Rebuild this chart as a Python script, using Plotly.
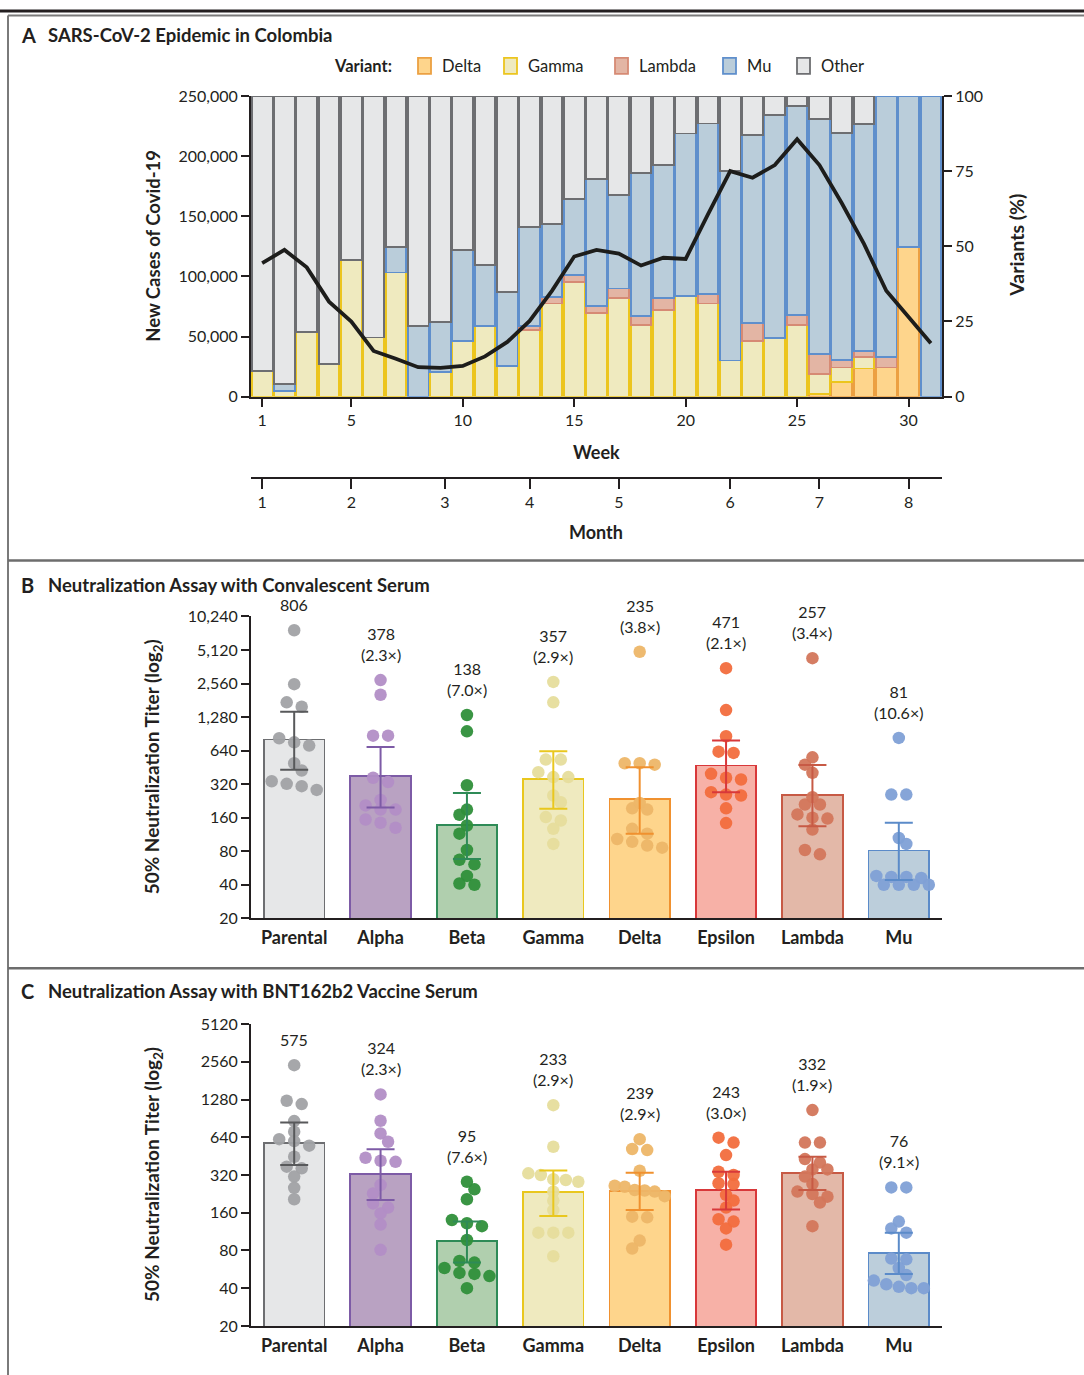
import math
import plotly.graph_objects as go

W, H = 1084, 1375
# the photographed page maps figure px y -> 9 + 0.987*y; place items so they land on target px
V_OFF, V_SCALE = 9.0, 0.987
def PX(x): return x / W
def PY(y): return 1 - ((y - V_OFF) / V_SCALE) / H

FONT = "Lato"
INK = "#231f20"

# ---------------- Panel A data ----------------
weeks = list(range(1, 32))
pct_delta = [0, 0, 0, 0, 0, 0, 0, 0, 0, 0, 0, 0, 0, 0, 0, 0, 0, 0, 0, 0, 0, 0, 0, 0, 0,
             0.9, 4.8, 9.4, 9.7, 49.9, 0]
pct_gamma = [8.6, 1.8, 21.4, 10.9, 45.4, 19.7, 41.3, 0, 8.1, 18.4, 23.4, 10.3, 22.3, 31.0, 38.2,
             27.8, 32.7, 23.9, 28.8, 33.6, 31.0, 12.0, 18.6, 19.5, 23.9, 6.6, 4.9, 3.7, 0, 0, 0]
pct_lambda = [0, 0, 0, 0, 0, 0, 0, 0, 0, 0, 0, 0, 1.3, 2.2, 2.2, 2.4, 3.3, 3.0, 4.1, 0, 3.1, 0,
              5.8, 0, 3.3, 6.7, 2.5, 2.0, 3.4, 0, 0]
pct_mu = [0, 2.4, 0, 0, 0, 0, 8.6, 23.6, 16.6, 30.3, 20.5, 24.4, 32.7, 24.2, 25.3, 42.3, 31.1,
          47.6, 44.2, 53.9, 56.7, 63.1, 62.5, 74.1, 69.5, 78.0, 75.4, 75.5, 86.9, 50.1, 100]
pct_other = [91.4, 95.8, 78.6, 89.1, 54.6, 80.3, 50.1, 76.4, 75.3, 51.3, 56.1, 65.3, 43.7, 42.6,
             34.3, 27.5, 32.9, 25.5, 22.9, 12.5, 9.2, 24.9, 13.1, 6.4, 3.3, 7.8, 12.4, 9.4, 0, 0, 0]
new_cases = [111000, 122000, 107500, 79000, 62500, 38000, 31500, 24500, 24000, 25500, 33500,
             45500, 63000, 88000, 116500, 122000, 119000, 109000, 115500, 114500, 151500, 187500,
             182000, 192500, 214000, 192500, 161000, 127000, 88000, 66000, 44500]
week_ticks = [1, 5, 10, 15, 20, 25, 30]
month_tick_weeks = [1, 5, 9.2, 13, 17, 22, 26, 30]
month_labels = ["1", "2", "3", "4", "5", "6", "7", "8"]
case_ticks = [0, 50000, 100000, 150000, 200000, 250000]
case_labels = ["0", "50,000", "100,000", "150,000", "200,000", "250,000"]
pct_ticks = [0, 25, 50, 75, 100]
variant_names = ["Delta", "Gamma", "Lambda", "Mu", "Other"]

# ---------------- Panels B / C data ----------------
categories = ["Parental", "Alpha", "Beta", "Gamma", "Delta", "Epsilon", "Lambda", "Mu"]

conv_titers = [
    [7710, 2530, 1735, 1586, 826, 710, 760, 493, 424, 322, 284, 307, 340],
    [2750, 2030, 872, 872, 365, 334, 231, 206, 189, 189, 154, 144, 130],
    [1336, 954, 313, 170, 189, 136, 115, 82, 67, 61, 48, 40, 41],
    [2650, 1735, 532, 532, 410, 370, 370, 253, 220, 162, 151, 127, 93],
    [4940, 493, 479, 493, 194, 189, 217, 115, 127, 103, 97, 86, 90],
    [3520, 1480, 862, 610, 626, 396, 352, 365, 253, 258, 271, 194, 143],
    [4330, 557, 479, 404, 244, 210, 210, 171, 160, 157, 125, 82, 75],
    [832, 258, 258, 105, 93, 47, 47, 48, 46, 40, 40, 40, 40],
]
conv_gmt = [806, 378, 138, 357, 235, 471, 257, 81]
conv_ci_hi = [1430, 690, 267, 632, 453, 788, 476, 144]
conv_ci_lo = [431, 197, 68, 192, 115, 271, 134, 44]
conv_fold = ["", "2.3", "7.0", "2.9", "3.8", "2.1", "3.4", "10.6"]
conv_ticks = [20, 40, 80, 160, 320, 640, 1280, 2560, 5120, 10240]
conv_tick_labels = ["20", "40", "80", "160", "320", "640", "1,280", "2,560", "5,120", "10,240"]

vacc_titers = [
    [2410, 1178, 1253, 862, 710, 619, 597, 549, 448, 373, 362, 311, 253, 205],
    [1408, 868, 688, 590, 416, 408, 440, 228, 267, 190, 176, 158, 129, 81],
    [283, 246, 205, 140, 132, 125, 97, 66, 64, 58, 52, 50, 53, 40],
    [1156, 538, 320, 292, 283, 296, 330, 236, 200, 168, 111, 111, 111, 72],
    [619, 506, 516, 346, 263, 258, 236, 241, 243, 217, 149, 147, 96, 83],
    [636, 581, 462, 340, 320, 275, 271, 222, 200, 176, 142, 136, 120, 89],
    [1056, 581, 581, 429, 402, 355, 355, 311, 271, 236, 215, 226, 193, 125],
    [255, 255, 136, 120, 111, 69, 68, 58, 51, 46, 43, 41, 40, 40],
]
vacc_gmt = [575, 324, 95, 233, 239, 243, 332, 76]
vacc_ci_hi = [842, 513, 136, 348, 334, 340, 448, 111]
vacc_ci_lo = [384, 202, 64, 151, 168, 170, 243, 52]
vacc_fold = ["", "2.3", "7.6", "2.9", "2.9", "3.0", "1.9", "9.1"]
vacc_ticks = [20, 40, 80, 160, 320, 640, 1280, 2560, 5120]
vacc_tick_labels = ["20", "40", "80", "160", "320", "640", "1280", "2560", "5120"]
detection_limit = 40

# ---------------- styles ----------------
var_fill = {"Delta": "#fed58c", "Gamma": "#efeabf", "Lambda": "#e3b5a4", "Mu": "#bacdda", "Other": "#e6e7e8"}
var_line = {"Delta": "#eca042", "Gamma": "#ecc51e", "Lambda": "#d68a74", "Mu": "#5f8fcc", "Other": "#6d6e71"}
cat_fill = ["#e6e7e8", "#b9a2c2", "#b0cfae", "#efeabf", "#fed58c", "#f7b1a7", "#e3b8a8", "#bccedb"]
cat_line = ["#6d6e71", "#7d5ba6", "#2e8b57", "#e9c71e", "#f0912f", "#d8383a", "#c75a45", "#5b8bc9"]
cat_err = ["#58595b", "#7d5ba6", "#2e8b57", "#e9c71e", "#f0912f", "#d8383a", "#c75a45", "#5b8bc9"]
cat_dot = ["#a1a2a5", "#b28ec6", "#2f8f3a", "#e6dd9c", "#edb668", "#f26d3d", "#d3765b", "#7fa0d6"]

fig = go.Figure()

# ---------------- Panel A traces ----------------
series = {"Delta": pct_delta, "Gamma": pct_gamma, "Lambda": pct_lambda, "Mu": pct_mu, "Other": pct_other}
for name in variant_names:
    vals = [v if v > 0 else None for v in series[name]]
    fig.add_trace(go.Bar(x=weeks, y=vals, name=name, xaxis="x", yaxis="y",
                         marker=dict(color=var_fill[name], line=dict(color=var_line[name], width=1.8)),
                         showlegend=False, hoverinfo="x+y+name"))
fig.add_trace(go.Scatter(x=weeks, y=new_cases, mode="lines", xaxis="x", yaxis="y2",
                         line=dict(color="#1d1d1b", width=3.8), showlegend=False, name="New cases"))
# invisible trace so the month axis is drawn
fig.add_trace(go.Scatter(x=month_tick_weeks, y=[None] * len(month_tick_weeks), xaxis="x3", yaxis="y",
                         mode="markers", showlegend=False, hoverinfo="skip"))


# ---------------- Prism-like row scatter ----------------
def swarm(vals, ppd, ppu, s=15.0, dmin=9.0, t=5.0, maxw=50.0):
    n = len(vals)
    ys = [math.log2(v) * ppd for v in vals]
    order = sorted(range(n), key=lambda i: -ys[i])
    rows = []
    for i in order:
        if rows and ys[rows[-1][-1]] - ys[i] <= t:
            rows[-1].append(i)
        else:
            rows.append([i])
    xs = [0.0] * n
    placed = []
    for r, row in enumerate(rows):
        m = len(row)
        sp = s if m < 2 else min(s, maxw / (m - 1))
        base = [(k - (m - 1) / 2) * sp for k in range(m)]
        best = None
        for step in range(0, 12):
            for sign in ((1, -1) if r % 2 else (-1, 1)):
                sh = sign * step * sp / 2
                ok = all(math.hypot(base[k] + sh - xs[j], ys[i] - ys[j]) >= dmin
                         for k, i in enumerate(row) for j in placed)
                if ok:
                    best = sh
                    break
            if best is not None:
                break
        if best is None:
            best = 0.0
        for k, i in enumerate(row):
            xs[i] = base[k] + best
            placed.append(i)
    return [x / ppu for x in xs]


def add_assay(titers, gmt, hi, lo, fold, xa, ya, ppd):
    for i, cat in enumerate(categories):
        fig.add_trace(go.Bar(x=[i], y=[gmt[i]], width=0.7, xaxis=xa, yaxis=ya, name=cat,
                             marker=dict(color=cat_fill[i], line=dict(color=cat_line[i], width=1.8)),
                             showlegend=False))
        offs = swarm(titers[i], ppd, 86.4)
        fig.add_trace(go.Scatter(x=[i + o for o in offs], y=titers[i], mode="markers", xaxis=xa, yaxis=ya,
                                 marker=dict(size=12.5, color=cat_dot[i], opacity=0.95, line=dict(width=0)),
                                 showlegend=False, cliponaxis=False, name=cat))
        fig.add_trace(go.Scatter(x=[i], y=[gmt[i]], mode="markers", xaxis=xa, yaxis=ya,
                                 marker=dict(size=1, color="rgba(0,0,0,0)"),
                                 error_y=dict(type="data", symmetric=False, array=[hi[i] - gmt[i]],
                                              arrayminus=[gmt[i] - lo[i]], color=cat_err[i],
                                              thickness=2, width=14),
                                 showlegend=False, hoverinfo="skip"))
        txt = f"{gmt[i]}" if fold[i] == "" else f"{gmt[i]}<br>({fold[i]}×)"
        fig.add_annotation(x=i, y=math.log10(max(titers[i])), xref=xa, yref=ya, text=txt,
                           showarrow=False, yanchor="bottom", yshift=14,
                           font=dict(family=FONT, size=16, color=INK))
    fig.add_shape(type="line", xref=xa, yref=ya, x0=-0.5, x1=7.5,
                  y0=math.log10(detection_limit), y1=math.log10(detection_limit),
                  line=dict(color="#3d3d3d", width=1.4, dash="dash"), layer="above")


add_assay(conv_titers, conv_gmt, conv_ci_hi, conv_ci_lo, conv_fold, "x2", "y3", 33.6)
add_assay(vacc_titers, vacc_gmt, vacc_ci_hi, vacc_ci_lo, vacc_fold, "x4", "y4", 37.75)

# ---------------- layout ----------------
xdom = [PX(251), PX(942)]
tickfont = dict(family=FONT, size=16, color=INK)
axline = dict(showline=True, linecolor=INK, linewidth=2, ticks="outside", tickcolor=INK,
              tickwidth=2, ticklen=8, showgrid=False, zeroline=False, tickfont=tickfont)

catfont = dict(family=FONT, size=18, color=INK, weight="bold")
cat_axis = dict(domain=xdom, range=[-0.5, 7.5], tickvals=list(range(8)), ticktext=categories,
                showline=True, linecolor=INK, linewidth=2, ticks="", showgrid=False, zeroline=False,
                tickfont=catfont, ticklabelstandoff=2)

fig.update_layout(
    width=W, height=H, autosize=False,
    margin=dict(l=0, r=0, t=0, b=0),
    paper_bgcolor="white", plot_bgcolor="rgba(0,0,0,0)",
    barmode="stack", bargap=0.08,
    font=dict(family=FONT, color=INK),
    showlegend=False,
    xaxis=dict(domain=xdom, range=[0.5, 31.5], anchor="y", tickvals=week_ticks, **axline),
    xaxis3=dict(domain=xdom, range=[0.5, 31.5], anchor="free", overlaying="x", position=PY(477),
                tickvals=month_tick_weeks, ticktext=month_labels, side="bottom",
                **{**axline, "ticklen": 10}),
    yaxis=dict(domain=[PY(396), PY(95)], range=[0, 100], side="right", anchor="x",
               tickvals=pct_ticks, **axline),
    yaxis2=dict(range=[0, 250000], overlaying="y", side="left", anchor="x",
                tickvals=case_ticks, ticktext=case_labels, **axline),
    xaxis2=dict(anchor="y3", **cat_axis),
    yaxis3=dict(domain=[PY(918), PY(616)], type="log", anchor="x2",
                range=[math.log10(20), math.log10(10240)], tickvals=conv_ticks,
                ticktext=conv_tick_labels, **axline),
    xaxis4=dict(anchor="y4", **cat_axis),
    yaxis4=dict(domain=[PY(1326), PY(1024)], type="log", anchor="x4",
                range=[math.log10(20), math.log10(5120)], tickvals=vacc_ticks,
                ticktext=vacc_tick_labels, **axline),
)

# ---------------- frame lines ----------------
def pline(x0, y0, x1, y1, color, width):
    fig.add_shape(type="line", xref="paper", yref="paper", x0=PX(x0), y0=PY(y0), x1=PX(x1), y1=PY(y1),
                  line=dict(color=color, width=width))

pline(0, 10, 1084, 10, INK, 3)
pline(8, 14.5, 1084, 14.5, "#7a7a7a", 2)
pline(8, 14.5, 8, 1390, "#7a7a7a", 2)
pline(8, 560, 1084, 560, "#6d6d6d", 2.5)
pline(8, 968, 1084, 968, "#6d6d6d", 2.5)

# ---------------- texts ----------------
def ptext(x, y, text, size=16, bold=False, xanchor="left", angle=0):
    fig.add_annotation(x=PX(x), y=PY(y), xref="paper", yref="paper", text=text, showarrow=False,
                       xanchor=xanchor, yanchor="middle", textangle=angle,
                       font=dict(family=FONT, size=size, color=INK, weight="bold" if bold else "normal"))

ptext(19, 34, "A", 20, True)
ptext(46, 34, "SARS-CoV-2 Epidemic in Colombia", 18.5, True)
ptext(19, 584, "B", 20, True)
ptext(46, 584, "Neutralization Assay with Convalescent Serum", 18.5, True)
ptext(19, 991, "C", 20, True)
ptext(46, 991, "Neutralization Assay with BNT162b2 Vaccine Serum", 18.5, True)

ptext(596, 451, "Week", 18, True, "center")
ptext(596, 531, "Month", 18, True, "center")
ptext(153, 245, "New Cases of Covid-19", 18.5, True, "center", -90)
ptext(1017, 245, "Variants (%)", 19.5, True, "center", -90)
ptext(153, 767, "50% Neutralization Titer (log<sub>2</sub>)", 19, True, "center", -90)
ptext(153, 1175, "50% Neutralization Titer (log<sub>2</sub>)", 19, True, "center", -90)

# legend
ptext(394, 65, "Variant:", 16.5, True, "right")
legend_box_x = {"Delta": 418, "Gamma": 504, "Lambda": 615, "Mu": 723, "Other": 797}
for name in variant_names:
    bx = legend_box_x[name]
    fig.add_shape(type="rect", xref="paper", yref="paper", x0=PX(bx), x1=PX(bx + 13),
                  y0=PY(73), y1=PY(57), fillcolor=var_fill[name],
                  line=dict(color=var_line[name], width=1.8))
    ptext(bx + 22, 65, name, 16.5, False, "left")

fig.write_html(
    "out.html",
    config={"displayModeBar": False},
    post_script=(
        "document.documentElement.style.margin='0';document.documentElement.style.padding='0';"
        "document.body.style.margin='0';document.body.style.padding='0';"
        "document.documentElement.style.overflow='hidden';document.body.style.overflow='hidden';"
        "var gd=document.getElementById('{plot_id}');gd.style.position='absolute';"
        "gd.style.top='0px';gd.style.left='0px';"
    ),
)
